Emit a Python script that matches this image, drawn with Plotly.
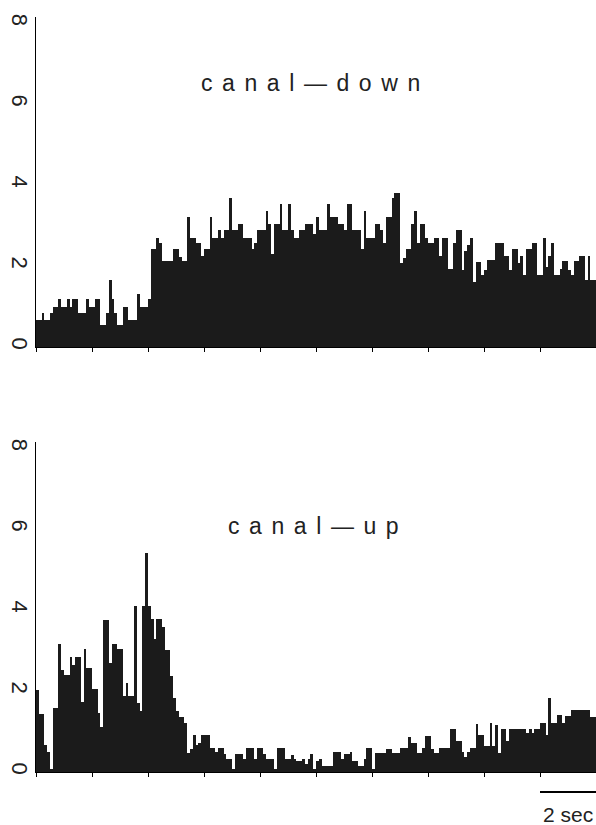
import plotly.graph_objects as go

# Bin width 0.1 s, 20 s of data (200 bins per panel)
bin_width = 0.1
time_ticks = [0, 2, 4, 6, 8, 10, 12, 14, 16, 18, 20]
y_ticks = [0, 2, 4, 6, 8]
y_tick_labels = ["0", "2", "4", "6", "8"]

canal_down = [
    0.66, 0.66, 0.85, 0.66, 0.66, 0.85, 0.99, 0.99, 1.19, 0.99,
    0.99, 1.19, 0.99, 1.19, 1.19, 0.85, 0.85, 0.85, 1.19, 0.99,
    0.99, 1.19, 1.19, 0.54, 0.54, 0.85, 1.66, 1.19, 0.85, 0.54,
    0.54, 0.99, 0.99, 0.66, 0.66, 0.66, 1.31, 0.99, 0.99, 0.99,
    1.19, 2.43, 2.43, 2.70, 2.57, 2.12, 2.12, 2.12, 2.12, 2.43,
    2.43, 2.22, 2.12, 2.12, 3.21, 2.70, 2.70, 2.57, 2.57, 2.24,
    2.43, 2.43, 3.22, 2.70, 2.70, 2.90, 2.70, 2.90, 2.90, 3.69,
    2.90, 2.90, 3.03, 3.03, 2.70, 2.70, 2.70, 2.43, 2.57, 2.90,
    2.90, 2.90, 3.35, 3.03, 2.30, 3.03, 3.03, 3.54, 2.90, 2.90,
    3.54, 2.90, 2.70, 2.70, 2.90, 2.90, 3.03, 3.03, 3.03, 2.80,
    3.21, 2.90, 2.90, 2.90, 3.54, 3.21, 3.21, 3.21, 3.03, 3.03,
    2.90, 3.54, 3.54, 2.90, 2.90, 2.90, 2.43, 3.35, 2.70, 2.70,
    2.70, 3.03, 3.03, 2.90, 2.57, 3.21, 3.21, 3.69, 3.81, 3.81,
    2.08, 2.20, 2.43, 2.43, 3.03, 3.35, 2.57, 3.03, 3.03, 2.70,
    2.57, 2.57, 2.70, 2.70, 2.24, 2.70, 2.70, 1.93, 1.93, 2.57,
    2.90, 2.90, 1.91, 2.37, 2.51, 2.70, 1.61, 2.10, 2.10, 1.79,
    1.91, 2.14, 2.14, 2.14, 2.57, 2.57, 2.57, 2.24, 2.24, 1.91,
    2.43, 2.43, 2.08, 2.24, 1.79, 2.43, 2.43, 2.57, 2.57, 1.79,
    1.79, 2.70, 1.98, 2.24, 2.57, 1.79, 1.79, 1.93, 2.12, 2.12,
    1.91, 1.79, 2.12, 2.12, 2.24, 2.24, 1.66, 2.24, 1.66, 1.66,
]

canal_up = [
    2.02, 1.43, 1.43, 0.67, 0.50, 0.08, 1.57, 1.57, 3.15, 2.53,
    2.39, 2.39, 2.85, 2.64, 2.85, 2.85, 1.74, 3.03, 2.56, 2.56,
    2.04, 2.04, 1.45, 1.12, 3.75, 3.75, 2.70, 3.15, 3.15, 3.03,
    3.03, 1.88, 2.19, 1.88, 1.88, 4.10, 1.70, 1.51, 4.10, 5.40,
    4.10, 3.77, 3.28, 3.77, 3.77, 3.59, 3.01, 3.01, 2.37, 1.84,
    1.51, 1.37, 1.37, 1.22, 0.48, 0.58, 0.91, 0.66, 0.71, 0.91,
    0.91, 0.91, 0.60, 0.60, 0.50, 0.60, 0.60, 0.44, 0.31, 0.31,
    0.07, 0.44, 0.44, 0.44, 0.31, 0.60, 0.60, 0.60, 0.31, 0.60,
    0.60, 0.44, 0.31, 0.31, 0.31, 0.07, 0.60, 0.60, 0.60, 0.31,
    0.31, 0.42, 0.31, 0.26, 0.26, 0.31, 0.21, 0.31, 0.44, 0.07,
    0.26, 0.31, 0.15, 0.15, 0.15, 0.15, 0.49, 0.49, 0.49, 0.31,
    0.44, 0.44, 0.49, 0.26, 0.26, 0.15, 0.15, 0.31, 0.60, 0.60,
    0.07, 0.48, 0.48, 0.48, 0.48, 0.58, 0.58, 0.46, 0.46, 0.46,
    0.60, 0.60, 0.60, 0.86, 0.72, 0.72, 0.46, 0.46, 0.60, 0.90,
    0.90, 0.58, 0.48, 0.48, 0.60, 0.60, 0.60, 0.60, 1.07, 1.07,
    0.77, 0.77, 0.50, 0.38, 0.50, 0.60, 0.60, 1.18, 0.91, 0.91,
    0.63, 0.63, 1.20, 0.63, 1.15, 0.48, 1.07, 1.07, 0.77, 1.05,
    1.05, 1.05, 1.05, 1.05, 1.05, 0.96, 1.05, 0.96, 1.05, 1.05,
    1.20, 1.20, 0.91, 1.84, 1.20, 1.20, 1.40, 1.40, 1.20, 1.38,
    1.38, 1.53, 1.53, 1.53, 1.53, 1.53, 1.53, 1.53, 1.37, 1.37,
]

panel_titles = ["canal—down", "canal—up"]
scale_label = "2 sec"

W, H = 596, 825
FONT = "Liberation Sans, Arial, Helvetica, sans-serif"
BAR_COLOR = "#1b1b1b"
INK = "#222222"

def spaced(s):
    return "\u2005\u2006".join(list(s))

t_down = [bin_width * (i + 0.5) for i in range(len(canal_down))]
t_up = [bin_width * (i + 0.5) for i in range(len(canal_up))]

fig = go.Figure()
fig.add_trace(go.Bar(x=t_down, y=canal_down, width=bin_width,
                     marker=dict(color=BAR_COLOR, line=dict(width=0)),
                     xaxis="x", yaxis="y", showlegend=False))
fig.add_trace(go.Bar(x=t_up, y=canal_up, width=bin_width,
                     marker=dict(color=BAR_COLOR, line=dict(width=0)),
                     xaxis="x2", yaxis="y2", showlegend=False))

def px2paper_y(py):
    return (H - py) / H

top_dom = [px2paper_y(347), px2paper_y(17)]
bot_dom = [px2paper_y(772), px2paper_y(442)]
yr = [0, 8.15]

xcommon = dict(range=[0, 20], showline=True, linecolor="black", linewidth=1.3,
               ticks="outside", ticklen=4, tickwidth=1.3, tickcolor="black",
               tickvals=time_ticks, showticklabels=False, showgrid=False,
               zeroline=False, domain=[0, 1])
ycommon = dict(range=yr, showline=True, linecolor="black", linewidth=1.3,
               ticks="", tickvals=y_ticks, ticktext=y_tick_labels,
               tickangle=90, tickfont=dict(family=FONT, size=22, color=INK),
               ticklabelstandoff=-4,
               showgrid=False, zeroline=False, automargin=False)

fig.update_layout(
    width=W, height=H,
    margin=dict(l=36, r=0, t=0, b=0),
    paper_bgcolor="white", plot_bgcolor="white",
    bargap=0,
    xaxis=dict(xcommon, anchor="y"),
    yaxis=dict(ycommon, domain=top_dom, anchor="x"),
    xaxis2=dict(xcommon, anchor="y2"),
    yaxis2=dict(ycommon, domain=bot_dom, anchor="x2"),
    font=dict(family=FONT, color=INK),
)

fig.add_annotation(text=spaced(panel_titles[0]), x=(310 - 36) / 560, y=px2paper_y(83),
                   xref="paper", yref="paper", showarrow=False,
                   xanchor="center", yanchor="middle",
                   font=dict(family=FONT, size=23, color=INK))
fig.add_annotation(text=spaced(panel_titles[1]), x=(313 - 36) / 560, y=px2paper_y(526),
                   xref="paper", yref="paper", showarrow=False,
                   xanchor="center", yanchor="middle",
                   font=dict(family=FONT, size=23, color=INK))

# Scale bar spanning 2 s on the lower time axis
fig.add_shape(type="line", xref="x2", yref="paper", x0=18, x1=20,
              y0=px2paper_y(792), y1=px2paper_y(792),
              line=dict(color="black", width=2))
fig.add_annotation(text=scale_label, x=19, y=px2paper_y(814), xref="x2", yref="paper",
                   showarrow=False, xanchor="center", yanchor="middle",
                   font=dict(family=FONT, size=21, color=INK))

fig.write_html("out.html")
